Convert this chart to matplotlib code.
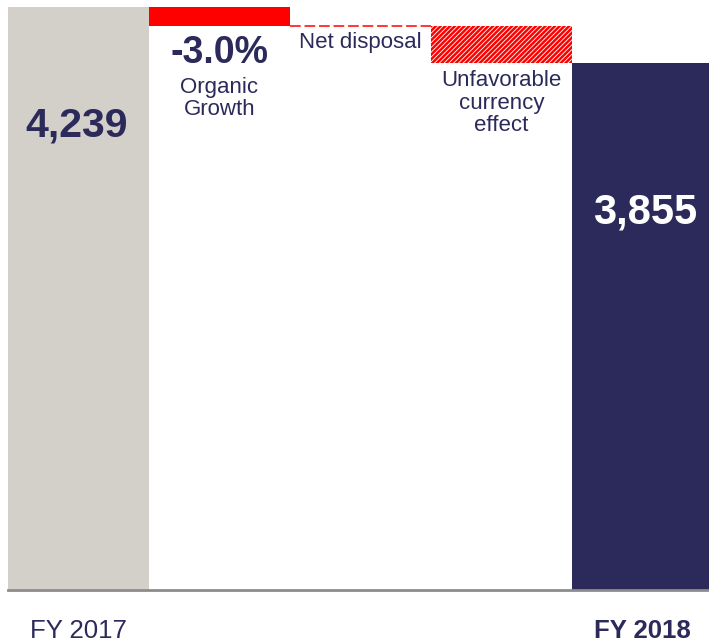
import matplotlib
matplotlib.use("Agg")
import matplotlib.pyplot as plt

plt.rcParams["font.family"] = ["Liberation Sans", "DejaVu Sans"]
plt.rcParams["hatch.linewidth"] = 1.8

# waterfall steps (EUR m)
steps = ["FY 2017", "Organic Growth", "Net disposal", "Unfavorable currency effect", "FY 2018"]
start_value = 4239
organic = -127
net_disposal = -3
currency = -254
end_value = 3855
axis_floor = 241

NAVY = "#2B2A5A"
GREY = "#D3D0C9"
RED = "#FF0000"

fig = plt.figure(figsize=(7.09, 6.43), dpi=100)
ax = fig.add_axes([8 / 709, 53 / 643, 705 / 709, 583 / 643])

x = list(range(len(steps)))
lvl1 = start_value + organic
lvl2 = lvl1 + net_disposal

ax.bar(x[0], start_value - axis_floor, bottom=axis_floor, width=1.0, color=GREY)
ax.bar(x[1], organic, bottom=start_value, width=1.0, color=RED)
# net disposal is too small to show as a block: draw it as a dashed step
ax.hlines(lvl1 + net_disposal / 2, x[2] - 0.5, x[2] + 0.5, color=RED,
          linewidth=1.1, linestyles=[(0, (7, 2.5))])
ax.bar(x[3], currency, bottom=lvl2, width=1.0, color="white",
       edgecolor=RED, hatch="/" * 7, linewidth=0)
ax.bar(x[4], end_value - axis_floor, bottom=axis_floor, width=1.0, color=NAVY)

ax.set_xlim(-0.5, 4.5)
ax.set_ylim(axis_floor, start_value)

# labels
ax.annotate("4,239", xy=(x[0], start_value), xytext=(-1.5, -85), textcoords="offset points",
            ha="center", va="center", fontsize=29.5, fontweight="bold", color=NAVY)
ax.annotate("3,855", xy=(x[4], end_value), xytext=(2, -108), textcoords="offset points",
            ha="center", va="center", fontsize=30, fontweight="bold", color="white")
ax.annotate("-3.0%", xy=(x[1], lvl1), xytext=(0, -20), textcoords="offset points",
            ha="center", va="center", fontsize=27, fontweight="bold", color=NAVY)
ax.annotate("Organic\nGrowth", xy=(x[1], lvl1), xytext=(0, -52.5), textcoords="offset points",
            ha="center", va="center", fontsize=16, color=NAVY, linespacing=1.07)
ax.annotate("Net disposal", xy=(x[2], lvl2), xytext=(0, -12), textcoords="offset points",
            ha="center", va="center", fontsize=16, color=NAVY)
ax.annotate("Unfavorable\ncurrency\neffect", xy=(x[3], end_value), xytext=(0, -29),
            textcoords="offset points", ha="center", va="center", fontsize=16,
            color=NAVY, linespacing=1.1)

ax.set_xticks([x[0], x[4]])
ax.set_xticklabels([steps[0], steps[4]], fontsize=18.5, color=NAVY)
ax.get_xticklabels()[1].set_fontweight("bold")
ax.tick_params(axis="x", length=0, pad=21)
ax.set_yticks([])

for side in ["top", "left", "right"]:
    ax.spines[side].set_visible(False)
ax.spines["bottom"].set_color("#8C8C8C")
ax.spines["bottom"].set_linewidth(2)

fig.savefig("out.png", dpi=100)
